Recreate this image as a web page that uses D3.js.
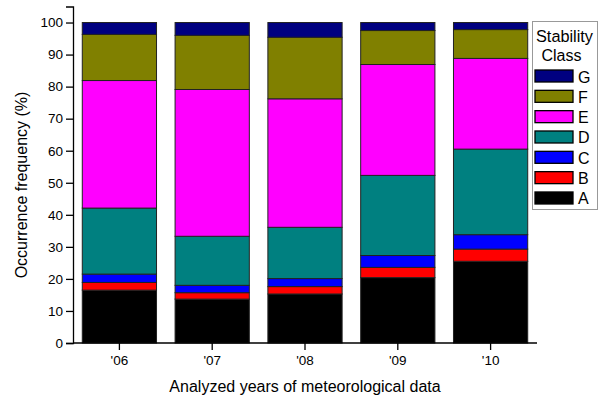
<!DOCTYPE html>
<html>
<head>
<meta charset="utf-8">
<script src="https://cdn.jsdelivr.net/npm/d3@7"></script>
<style>
  body { margin: 0; background: #fff; }
  text { font-family: Arial, "Liberation Sans", sans-serif; fill: #000; }
</style>
</head>
<body>
<script>
var years = ["'06", "'07", "'08", "'09", "'10"];
var classes = ["A", "B", "C", "D", "E", "F", "G"];
var colors = ["#000000", "#ff0000", "#0000ff", "#008080", "#ff00ff", "#808000", "#000080"];

// occurrence frequency (%) per class, one value per year
var classA = [16.5, 13.7, 15.3, 20.4, 25.5];
var classB = [2.4, 2.0, 2.3, 3.2, 3.8];
var classC = [2.6, 2.3, 2.5, 3.7, 4.5];
var classD = [20.6, 15.3, 16.0, 25.0, 26.7];
var classE = [39.8, 45.8, 40.1, 34.6, 28.3];
var classF = [14.4, 16.9, 19.2, 10.6, 9.0];
var classG = [3.7, 4.0, 4.6, 2.5, 2.2];

var yTicks = [0, 10, 20, 30, 40, 50, 60, 70, 80, 90, 100];

var series = [classA, classB, classC, classD, classE, classF, classG];

var rows = years.map(function(y, i) {
  var r = {year: y};
  classes.forEach(function(c, j) { r[c] = series[j][i]; });
  return r;
});

var screen = {width: 604, height: 398};

var svg = d3.select("body")
            .append("svg")
            .attr("width", screen.width)
            .attr("height", screen.height);

var x = d3.scaleBand()
          .domain(years)
          .range([73, 537])
          .paddingInner(0.2)
          .paddingOuter(0.1);

var y = d3.scaleLinear()
          .domain([0, 105])
          .range([343, 6.5]);

var stack = d3.stack().keys(classes)(rows);

svg.append("g")
   .selectAll("g")
   .data(stack)
   .enter()
   .append("g")
   .attr("fill", function(d, i) { return colors[i]; })
   .selectAll("rect")
   .data(function(d) { return d; })
   .enter()
   .append("rect")
   .attr("x", function(d) { return x(d.data.year); })
   .attr("y", function(d) { return y(d[1]); })
   .attr("width", x.bandwidth())
   .attr("height", function(d) { return y(d[0]) - y(d[1]); })
   .attr("stroke", "#222")
   .attr("stroke-width", 1);

// axes
var yAxis = svg.append("g")
               .attr("transform", "translate(73,0)")
               .call(d3.axisLeft(y).tickValues(yTicks).tickSize(7).tickPadding(3));

var xAxis = svg.append("g")
               .attr("transform", "translate(0,343)")
               .call(d3.axisBottom(x).tickSize(7).tickPadding(5));

[xAxis, yAxis].forEach(function(a) {
  a.selectAll("path").attr("stroke", "#000").attr("stroke-width", 1.3);
  a.selectAll("line").attr("stroke", "#000").attr("stroke-width", 1.3);
  a.selectAll("text").style("font-family", "Arial, 'Liberation Sans', sans-serif")
   .style("font-size", "13.5px").attr("fill", "#000");
});
xAxis.select("path").attr("d", "M73,0H537");

svg.append("text")
   .attr("transform", "translate(27,185) rotate(-90)")
   .attr("text-anchor", "middle")
   .style("font-size", "16px")
   .text("Occurrence frequency (%)");

svg.append("text")
   .attr("x", 305)
   .attr("y", 392)
   .attr("text-anchor", "middle")
   .style("font-size", "16px")
   .text("Analyzed years of meteorological data");

// legend
var legend = svg.append("g").attr("transform", "translate(532,21)");

legend.append("rect")
      .attr("x", 0.5).attr("y", 0.5)
      .attr("width", 65).attr("height", 188)
      .attr("fill", "#fff")
      .attr("stroke", "#999")
      .attr("stroke-width", 1);

legend.append("text").attr("x", 4).attr("y", 20.5).style("font-size", "16.3px").text("Stability");
legend.append("text").attr("x", 9.5).attr("y", 40).style("font-size", "16px").text("Class");

var items = legend.selectAll(".item")
                  .data(classes.slice().reverse())
                  .enter()
                  .append("g")
                  .attr("class", "item")
                  .attr("transform", function(d, i) { return "translate(3,"+ (49 + i * 20.33) + ")"; });

items.append("rect")
     .attr("width", 38)
     .attr("height", 12)
     .attr("fill", function(d) { return colors[classes.indexOf(d)]; })
     .attr("stroke", "#000")
     .attr("stroke-width", 1.3);

items.append("text")
     .attr("x", 43)
     .attr("y", 12.5)
     .style("font-size", "16px")
     .text(function(d) { return d; });
</script>
</body>
</html>
